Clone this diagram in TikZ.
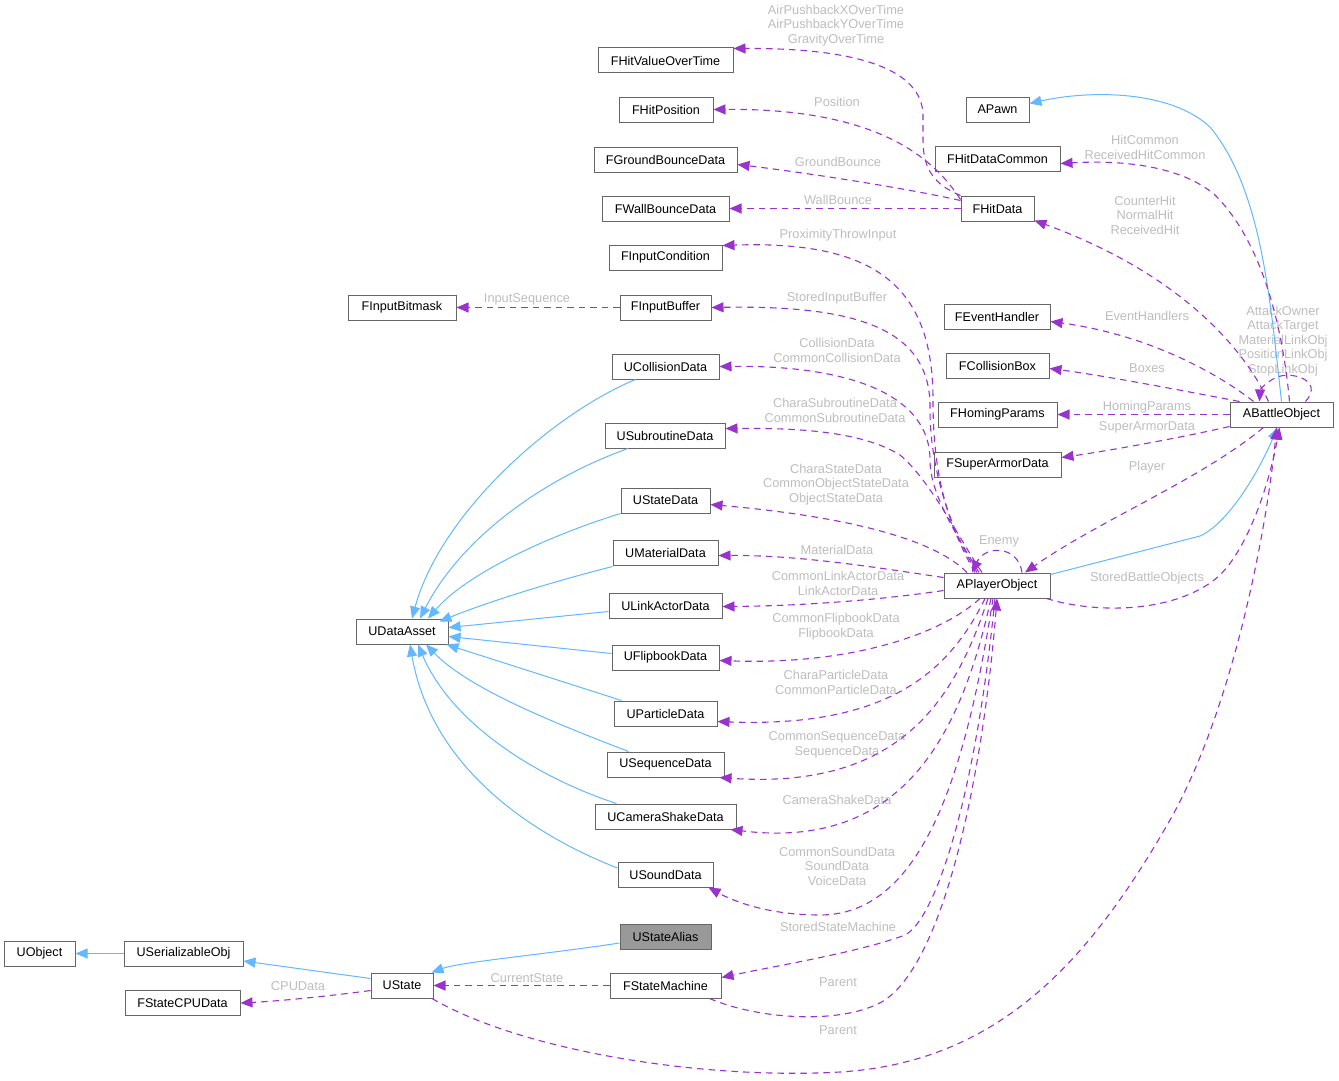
\documentclass[tikz,border=0pt]{standalone}
\usepackage{fontspec}
\setmainfont{Liberation Sans}
\usetikzlibrary{arrows.meta,calc}
\definecolor{inhc}{HTML}{63B8FF}
\definecolor{depc}{HTML}{9A32CD}
\definecolor{lblc}{HTML}{BEBEBE}
\definecolor{bord}{HTML}{666666}
\definecolor{grayfill}{HTML}{999999}
\begin{document}
\begin{tikzpicture}[x=1pt,y=-1pt,
 box/.style={draw=bord, line width=1pt, fill=white, minimum height=25pt, inner sep=0pt, font=\fontsize{12.6}{15}\selectfont, text=black},
 inh/.style={draw=inhc, line width=1pt, -{Triangle[length=12pt,width=10pt]}},
 dep/.style={draw=depc, line width=1.1pt, dash pattern=on 6.5pt off 5pt, -{Triangle[length=12pt,width=10pt]}},
 lbl/.style={text=lblc, font=\fontsize{12.8}{14.5}\selectfont, align=center, inner sep=0pt}]
\useasboundingbox (0,0) rectangle (1339,1081);
\fill[white] (0,0) rectangle (1339,1081);

% labels
\node[lbl] (t1) at (836,25.5) {AirPushbackXOverTime\\AirPushbackYOverTime\\GravityOverTime};
\node[lbl] (t2) at (837,102) {Position};
\node[lbl] (t3) at (838,162) {GroundBounce};
\node[lbl] (t4) at (838,200) {WallBounce};
\node[lbl] (t5) at (838,235) {ProximityThrowInput};
\node[lbl] (t6) at (527,299) {InputSequence};
\node[lbl] (t7) at (837,298) {StoredInputBuffer};
\node[lbl] (t8) at (837,350.5) {CollisionData\\CommonCollisionData};
\node[lbl] (t9) at (835,410.5) {CharaSubroutineData\\CommonSubroutineData};
\node[lbl] (t10) at (836,484.5) {CharaStateData\\CommonObjectStateData\\ObjectStateData};
\node[lbl] (t11) at (837,550) {MaterialData};
\node[lbl] (t12) at (838,583.5) {CommonLinkActorData\\LinkActorData};
\node[lbl] (t13) at (836,626.5) {CommonFlipbookData\\FlipbookData};
\node[lbl] (t14) at (836,682.5) {CharaParticleData\\CommonParticleData};
\node[lbl] (t15) at (837,745) {CommonSequenceData\\SequenceData};
\node[lbl] (t16) at (837,800) {CameraShakeData};
\node[lbl] (t17) at (837,866) {CommonSoundData\\SoundData\\VoiceData};
\node[lbl] (t18) at (838,927) {StoredStateMachine};
\node[lbl] (t19) at (838,982) {Parent};
\node[lbl] (t20) at (838,1030) {Parent};
\node[lbl] (t21) at (527,978) {CurrentState};
\node[lbl] (t22) at (298,986) {CPUData};
\node[lbl] (t23) at (999,541) {Enemy};
\node[lbl] (t24) at (1147,578) {StoredBattleObjects};
\node[lbl] (t25) at (1147,467) {Player};
\node[lbl] (t26) at (1147,427) {SuperArmorData};
\node[lbl] (t27) at (1147,407) {HomingParams};
\node[lbl] (t28) at (1147,368) {Boxes};
\node[lbl] (t29) at (1147,316) {EventHandlers};
\node[lbl] (t30) at (1145,215) {CounterHit\\NormalHit\\ReceivedHit};
\node[lbl] (t31) at (1145,147.5) {HitCommon\\ReceivedHitCommon};
\node[lbl] (t32) at (1283,341) {AttackOwner\\AttackTarget\\MaterialLinkObj\\PositionLinkObj\\StopLinkObj};

% nodes
\node[box, minimum width=135pt] (hvot) at (665.5,60.5) {FHitValueOverTime};
\node[box, minimum width=94pt] (hpos) at (666,109.5) {FHitPosition};
\node[box, minimum width=143pt] (gbd) at (665.5,159.5) {FGroundBounceData};
\node[box, minimum width=127pt] (wbd) at (665.5,208.5) {FWallBounceData};
\node[box, minimum width=113pt] (ic) at (665.5,257.5) {FInputCondition};
\node[box, minimum width=108pt] (ibm) at (402,307.5) {FInputBitmask};
\node[box, minimum width=91pt] (ib) at (665.5,307.5) {FInputBuffer};
\node[box, minimum width=107pt] (ucd) at (665.5,366.5) {UCollisionData};
\node[box, minimum width=120pt] (usd) at (665,435.5) {USubroutineData};
\node[box, minimum width=89pt] (ustd) at (665.5,500.5) {UStateData};
\node[box, minimum width=105pt] (umd) at (665.5,552.5) {UMaterialData};
\node[box, minimum width=113pt] (ulad) at (665.5,605.5) {ULinkActorData};
\node[box, minimum width=107pt] (ufd) at (665.5,657.5) {UFlipbookData};
\node[box, minimum width=103pt] (upd) at (665.5,713.5) {UParticleData};
\node[box, minimum width=117pt] (useq) at (665.5,764.5) {USequenceData};
\node[box, minimum width=141pt] (ucsd) at (665.5,816.5) {UCameraShakeData};
\node[box, minimum width=95pt] (usnd) at (665.5,874.5) {USoundData};
\node[box, minimum width=91pt, fill=grayfill] (usa) at (665.5,937) {UStateAlias};
\node[box, minimum width=111pt] (fsm) at (665.5,985.5) {FStateMachine};
\node[box, minimum width=92pt] (uda) at (402,631.5) {UDataAsset};
\node[box, minimum width=71pt] (uobj) at (39.5,953.5) {UObject};
\node[box, minimum width=119pt] (uso) at (183.5,953.5) {USerializableObj};
\node[box, minimum width=62pt] (ust) at (402,985.5) {UState};
\node[box, minimum width=115pt] (cpu) at (182.5,1003) {FStateCPUData};
\node[box, minimum width=63pt] (apawn) at (997.5,109.5) {APawn};
\node[box, minimum width=125pt] (hdc) at (997.5,158.5) {FHitDataCommon};
\node[box, minimum width=73pt] (hd) at (997.5,208.5) {FHitData};
\node[box, minimum width=106pt] (eh) at (997,316.5) {FEventHandler};
\node[box, minimum width=103pt] (cb) at (997.5,365.5) {FCollisionBox};
\node[box, minimum width=119pt] (hp) at (997.5,414.5) {FHomingParams};
\node[box, minimum width=127pt] (sad) at (997.5,464.5) {FSuperArmorData};
\node[box, minimum width=106pt] (apo) at (997,585.5) {APlayerObject};
\node[box, minimum width=103pt] (abo) at (1281.5,414.5) {ABattleObject};

% inheritance
\draw[inh] ([xshift=-30pt]ucd.south) .. controls (550,415) and (440,515) .. ([xshift=10pt]uda.north);
\draw[inh] ([xshift=-37pt]usd.south) .. controls (540,480) and (460,540) .. ([xshift=18pt]uda.north);
\draw[inh] (ustd.south west) .. controls (560,532) and (470,570) .. ([xshift=26pt]uda.north);
\draw[inh] ([yshift=-1pt]umd.south west) .. controls (540,585) and (480,605) .. ([xshift=-9pt,yshift=-3pt]uda.north east);
\draw[inh] ([yshift=-6pt]ulad.west) -- ([yshift=4pt]uda.east);
\draw[inh] ([yshift=4pt]ufd.west) -- ([yshift=-5pt]uda.east);
\draw[inh] ([xshift=8pt]upd.north west) -- ([xshift=-2pt]uda.south east);
\draw[inh] ([xshift=22pt]useq.north west) .. controls (560,725) and (470,690) .. ([xshift=24pt]uda.south);
\draw[inh] ([xshift=22pt]ucsd.north west) .. controls (530,775) and (450,720) .. ([xshift=16pt]uda.south);
\draw[inh] ([yshift=6.5pt]usnd.west) .. controls (520,830) and (430,760) .. ([xshift=8pt]uda.south);
\draw[inh] (uso.west) -- (uobj.east);
\draw[inh] ([yshift=7pt]ust.west) -- ([yshift=-7.5pt]uso.east);
\draw[inh] ([yshift=-6pt]usa.west) .. controls (540,955) and (460,962) .. ([xshift=-2pt]ust.north east);
\draw[inh] (abo.north) .. controls (1270,300) and (1262,190) .. (1210,127) .. controls (1170,90) and (1090,90) .. ([yshift=6pt]apawn.east);
\draw[inh] ([yshift=-2pt]apo.north east) -- (1200,536) .. controls (1225,525) and (1255,480) .. ([xshift=-4pt]abo.south);

% members of FHitData / FInputBuffer
\draw[dep] (hd.north west) .. controls (935,185) and (923,170) .. (923,140) -- (923,115) .. controls (922,70) and (860,48) .. ([yshift=12pt]hvot.east);
\draw[dep] ([yshift=-4pt]hd.north west) .. controls (935,160) and (880,108) .. (hpos.east);
\draw[dep] ([yshift=8pt]hd.west) .. controls (900,187) and (800,172) .. ([yshift=-5pt]gbd.east);
\draw[dep] (hd.west) -- (wbd.east);
\draw[dep] (ib.west) -- (ibm.east);

% members of APlayerObject
\draw[dep] ([xshift=-22pt]apo.north) .. controls (945,520) and (933,470) .. (933,400) .. controls (933,290) and (880,240) .. ([yshift=-1pt]ic.north east);
\draw[dep] ([xshift=-20pt]apo.north) .. controls (945,520) and (930,460) .. (930,410) .. controls (932,330) and (860,305) .. (ib.east);
\draw[dep] ([xshift=-18pt]apo.north) .. controls (950,525) and (930,490) .. (930,460) .. controls (930,395) and (850,365) .. (ucd.east);
\draw[dep] ([xshift=-15pt]apo.north) .. controls (960,540) and (930,480) .. (900,455) .. controls (860,430) and (790,428) .. ([yshift=7pt]usd.east);
\draw[dep] ([xshift=-30pt]apo.north) .. controls (930,535) and (830,515) .. ([yshift=-4pt]ustd.east);
\draw[dep] ([yshift=8pt]apo.west) .. controls (880,568) and (800,555) .. ([yshift=-3pt]umd.east);
\draw[dep] ([yshift=-5pt]apo.west) .. controls (880,600) and (800,606) .. ([yshift=-1pt]ulad.east);
\draw[dep] ([xshift=-17pt]apo.south) .. controls (940,635) and (850,665) .. ([yshift=-3pt]ufd.east);
\draw[dep] ([xshift=-12pt]apo.south) .. controls (950,670) and (890,728) .. ([yshift=-8pt]upd.east);
\draw[dep] ([xshift=-9pt]apo.south) .. controls (955,700) and (900,790) .. ([xshift=-5pt]useq.south east);
\draw[dep] ([xshift=-6pt]apo.south) .. controls (960,740) and (900,850) .. ([xshift=-6pt]ucsd.south east);
\draw[dep] ([xshift=-4pt]apo.south) .. controls (965,780) and (920,915) .. (820,915) .. controls (770,915) and (735,902) .. ([xshift=-5pt]usnd.south east);
\draw[dep] ([xshift=-2pt]apo.south) .. controls (975,800) and (935,920) .. (905,935) .. controls (860,952) and (780,965) .. ([yshift=8pt]fsm.east);
\draw[dep] ([xshift=25pt]apo.north) .. controls (1018,545) and (985,545) .. ([xshift=-25pt]apo.north);
\draw[dep] ([xshift=-4pt]apo.south east) .. controls (1100,615) and (1180,612) .. (1220,575) .. controls (1250,545) and (1270,480) .. ([xshift=-2pt]abo.south);

% FStateMachine / UState
\draw[dep] ([xshift=44pt]fsm.south) .. controls (760,1020) and (845,1025) .. (885,1000) .. controls (950,955) and (985,750) .. (apo.south);
\draw[dep] ([xshift=30pt]ust.south) .. controls (520,1050) and (700,1080) .. (840,1072) .. controls (1000,1062) and (1090,960) .. (1170,820) .. controls (1235,705) and (1268,520) .. ([xshift=-5pt]abo.south);
\draw[dep] (fsm.west) -- (ust.east);
\draw[dep] ([yshift=-5pt]ust.west) .. controls (330,996) and (280,1001) .. (cpu.east);

% members of ABattleObject
\draw[dep] ([xshift=8pt]abo.north) .. controls (1282,320) and (1260,240) .. (1215,195) .. controls (1180,165) and (1120,160) .. ([yshift=-5pt]hdc.east);
\draw[dep] ([xshift=-13pt]abo.north) .. controls (1240,340) and (1170,270) .. ([yshift=1pt]hd.south east);
\draw[dep] ([xshift=-28pt]abo.north) .. controls (1220,375) and (1150,335) .. ([yshift=-5pt]eh.east);
\draw[dep] ([xshift=10pt]abo.north west) .. controls (1180,390) and (1100,375) .. ([yshift=-3pt]cb.east);
\draw[dep] (abo.west) -- (hp.east);
\draw[dep] ([yshift=-12pt]abo.west) .. controls (1170,440) and (1100,452) .. ([yshift=7pt]sad.east);
\draw[dep] ([xshift=-18pt]abo.south) .. controls (1200,480) and (1100,520) .. ([xshift=28pt]apo.north);
\draw[dep] ([xshift=24pt]abo.north) .. controls (1325,380) and (1290,370) .. (1275,378) .. controls (1265,383) and (1260,390) .. ([xshift=-22pt]abo.north);
\end{tikzpicture}
\end{document}
